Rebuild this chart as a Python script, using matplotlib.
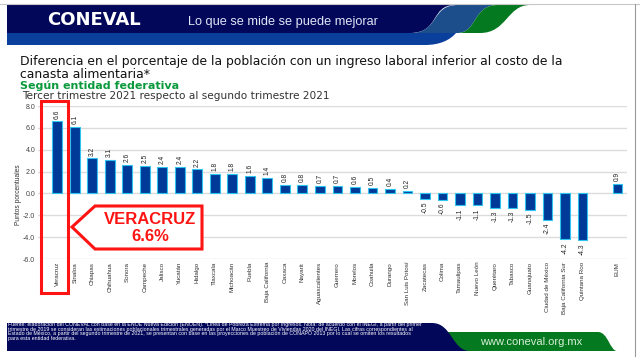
import matplotlib
matplotlib.use("Agg")
import matplotlib.pyplot as plt
from matplotlib.transforms import Affine2D
from matplotlib.patches import Polygon, PathPatch, Rectangle
from matplotlib.path import Path
import matplotlib.lines as mlines

plt.rcParams['font.family'] = ['Liberation Sans', 'DejaVu Sans']

# ---------------- data ----------------
states = ["Veracruz", "Sinaloa", "Chiapas", "Chihuahua", "Sonora", "Campeche",
          "Jalisco", "Yucatán", "Hidalgo", "Tlaxcala", "Michoacán", "Puebla",
          "Baja California", "Oaxaca", "Nayarit", "Aguascalientes", "Guerrero",
          "Morelos", "Coahuila", "Durango", "San Luis Potosí", "Zacatecas",
          "Colima", "Tamaulipas", "Nuevo León", "Querétaro", "Tabasco",
          "Guanajuato", "Ciudad de México", "Baja California Sur", "Quintana Roo"]
values = [6.6, 6.1, 3.2, 3.1, 2.6, 2.5, 2.4, 2.4, 2.2, 1.8, 1.8, 1.6, 1.4,
          0.8, 0.8, 0.7, 0.7, 0.6, 0.5, 0.4, 0.2, -0.5, -0.6, -1.1, -1.1,
          -1.3, -1.3, -1.5, -2.4, -4.2, -4.3]
national_label = "EUM"
national_value = 0.9
yticks = [8.0, 6.0, 4.0, 2.0, 0.0, -2.0, -4.0, -6.0]

title_line1 = "Diferencia en el porcentaje de la población con un ingreso laboral inferior al costo de la"
title_line2 = "canasta alimentaria*"
subtitle_green = "Según entidad federativa"
subtitle = "Tercer trimestre 2021 respecto al segundo trimestre 2021"
ylabel = "Puntos porcentuales"
callout = "VERACRUZ\n6.6%"
footer = ("Fuente: elaboración del CONEVAL con base en la ENOE Nueva Edición (ENOEN). *Línea de Pobreza Extrema por Ingresos. Nota: de acuerdo con el INEGI, a partir del primer\n"
          "trimestre de 2019 se consideran las estimaciones poblacionales trimestrales generadas por el Marco Muestreo de Viviendas 2020 del INEGI. Las cifras correspondientes al\n"
          "Estado de México, a partir del segundo trimestre de 2021, se presentan con base en las proyecciones de población de CONAPO 2013 por lo cual se omiten los resultados\n"
          "para esta entidad federativa.")

W, H = 640, 360
fig = plt.figure(figsize=(W / 100, H / 100), dpi=100)
fig.patch.set_facecolor("white")
T = Affine2D().scale(1 / W, -1 / H).translate(0, 1) + fig.transFigure

NAVY = "#03075a"
BLUE = "#0a3f9c"
TEAL = "#1d4e8c"
GREEN = "#05791f"
RED = "#ff1414"


def spath(pts_codes, color, z=1):
    verts = [p for p, c in pts_codes]
    codes = [c for p, c in pts_codes]
    pp = PathPatch(Path(verts, codes), facecolor=color, edgecolor="none",
                   transform=T, zorder=z)
    fig.patches.append(pp)


M, L, C, Z = Path.MOVETO, Path.LINETO, Path.CURVE4, Path.CLOSEPOLY

# ---------------- banner ----------------
spath([((7, 33), M), ((456, 33), L), ((450, 40), C), ((440, 45), C), ((425, 45), C),
       ((7, 45), L), ((7, 33), Z)], BLUE, 1)
spath([((7, 5), M), ((455, 5), L), ((430, 5), C), ((440, 33), C), ((410, 33), C),
       ((7, 33), L), ((7, 5), Z)], NAVY, 1)
spath([((410, 33), M), ((440, 33), C), ((430, 5), C), ((458, 5), C),
       ((498, 5), L), ((472, 5), C), ((478, 33), C), ((457, 33), C),
       ((410, 33), Z)], TEAL, 1)
spath([((457, 33), M), ((478, 33), C), ((472, 5), C), ((498, 5), C),
       ((530, 5), L), ((507, 5), C), ((507, 33), C), ((480, 33), C),
       ((457, 33), Z)], GREEN, 1)
fig.text(47, 20, "CONEVAL", transform=T, color="white", fontsize=13,
         fontweight="bold", family=["DejaVu Sans"], va="center", ha="left")
fig.text(188, 22, "Lo que se mide se puede mejorar", transform=T, color="#dfe6f5",
         fontsize=9.2, va="center", ha="left")

fig.lines.append(mlines.Line2D([0, 640], [3.5, 3.5], transform=T, color="#c8c8c8", lw=0.8))
fig.lines.append(mlines.Line2D([635, 635], [3.5, 356], transform=T, color="#9a9a9a", lw=0.8))

# ---------------- titles ----------------
TF = ["DejaVu Sans"]
fig.text(20, 65.0, title_line1, transform=T, fontsize=8.95, color="#111111",
         va="baseline", ha="left", family=TF)
fig.text(20, 77.6, title_line2, transform=T, fontsize=8.95, color="#111111",
         va="baseline", ha="left", family=TF)
fig.text(20, 88.6, subtitle_green, transform=T, fontsize=8.0, color="#0a9a3c",
         fontweight="bold", va="baseline", ha="left", family=TF)
fig.text(22, 99.4, subtitle, transform=T, fontsize=7.6, color="#333333",
         va="baseline", ha="left", family=TF)

# ---------------- chart ----------------
ax_left, ax_right, ax_top, ax_bot = 38, 627, 106, 259
ax = fig.add_axes([ax_left / W, 1 - ax_bot / H, (ax_right - ax_left) / W,
                   (ax_bot - ax_top) / H])
ax.set_facecolor("none")
n = len(states)
pos = list(range(n)) + [n + 1]
labels = states + [national_label]
vals = values + [national_value]
ax.bar(pos, vals, width=0.55, color="#003a98", edgecolor="#2ec4f0", linewidth=0.8,
       zorder=3)
for x, v in zip(pos, vals):
    if v >= 0:
        ax.annotate(f"{v:.1f}", (x, v), xytext=(0, 2), textcoords="offset points",
                    rotation=90, ha="center", va="bottom", fontsize=4.8,
                    color="#222222")
    else:
        ax.annotate(f"{v:.1f}", (x, v), xytext=(0, -2), textcoords="offset points",
                    rotation=90, ha="center", va="top", fontsize=4.8,
                    color="#222222")
ax.set_ylim(-6, 8)
ax.set_xlim(-1.1, n + 1.55)
ax.set_yticks(yticks)
ax.set_yticklabels([f"{t:.1f}" for t in yticks], fontsize=5, color="#444444")
ax.set_xticks(pos)
ax.set_xticklabels(labels, rotation=90, fontsize=4.5, color="#333333")
ax.tick_params(axis="both", length=0, pad=2)
ax.yaxis.grid(True, color="#dcdcdc", linewidth=1.0, zorder=0)
ax.set_axisbelow(True)
for s in ax.spines.values():
    s.set_visible(False)
fig.text(18, 195, ylabel, transform=T, rotation=90, fontsize=4.8, color="#333333",
         ha="center", va="center")

# ---------------- callout ----------------
fig.patches.append(Rectangle((41, 101), 27, 192, transform=T, facecolor="none",
                             edgecolor=RED, linewidth=2.2, zorder=5))
fig.patches.append(Polygon([(72, 227), (95, 206), (202, 206), (202, 249), (95, 249)],
                           closed=True, transform=T, facecolor="white",
                           edgecolor=RED, linewidth=2.2, zorder=5))
fig.text(150, 228, callout, transform=T, color=RED, fontsize=12, fontweight="bold",
         ha="center", va="center", linespacing=1.1, zorder=6)

# ---------------- footer ----------------
spath([((440, 332), M), ((598, 332), L), ((608, 332), C), ((610, 351), C),
       ((617, 351), C), ((440, 351), L), ((440, 332), Z)], GREEN, 1)
spath([((7, 323), M), ((432, 323), L), ((452, 323), C), ((452, 351), C),
       ((470, 351), C), ((7, 351), L), ((7, 323), Z)], NAVY, 2)
fig.text(531, 342, "www.coneval.org.mx", transform=T, color="#d8f0d8", fontsize=8.0,
         ha="center", va="center", zorder=3)
fig.text(8, 331.5, footer, transform=T, color="white", fontsize=3.8, ha="left",
         va="center", linespacing=0.95, zorder=3)

fig.savefig("out.png", dpi=100)
